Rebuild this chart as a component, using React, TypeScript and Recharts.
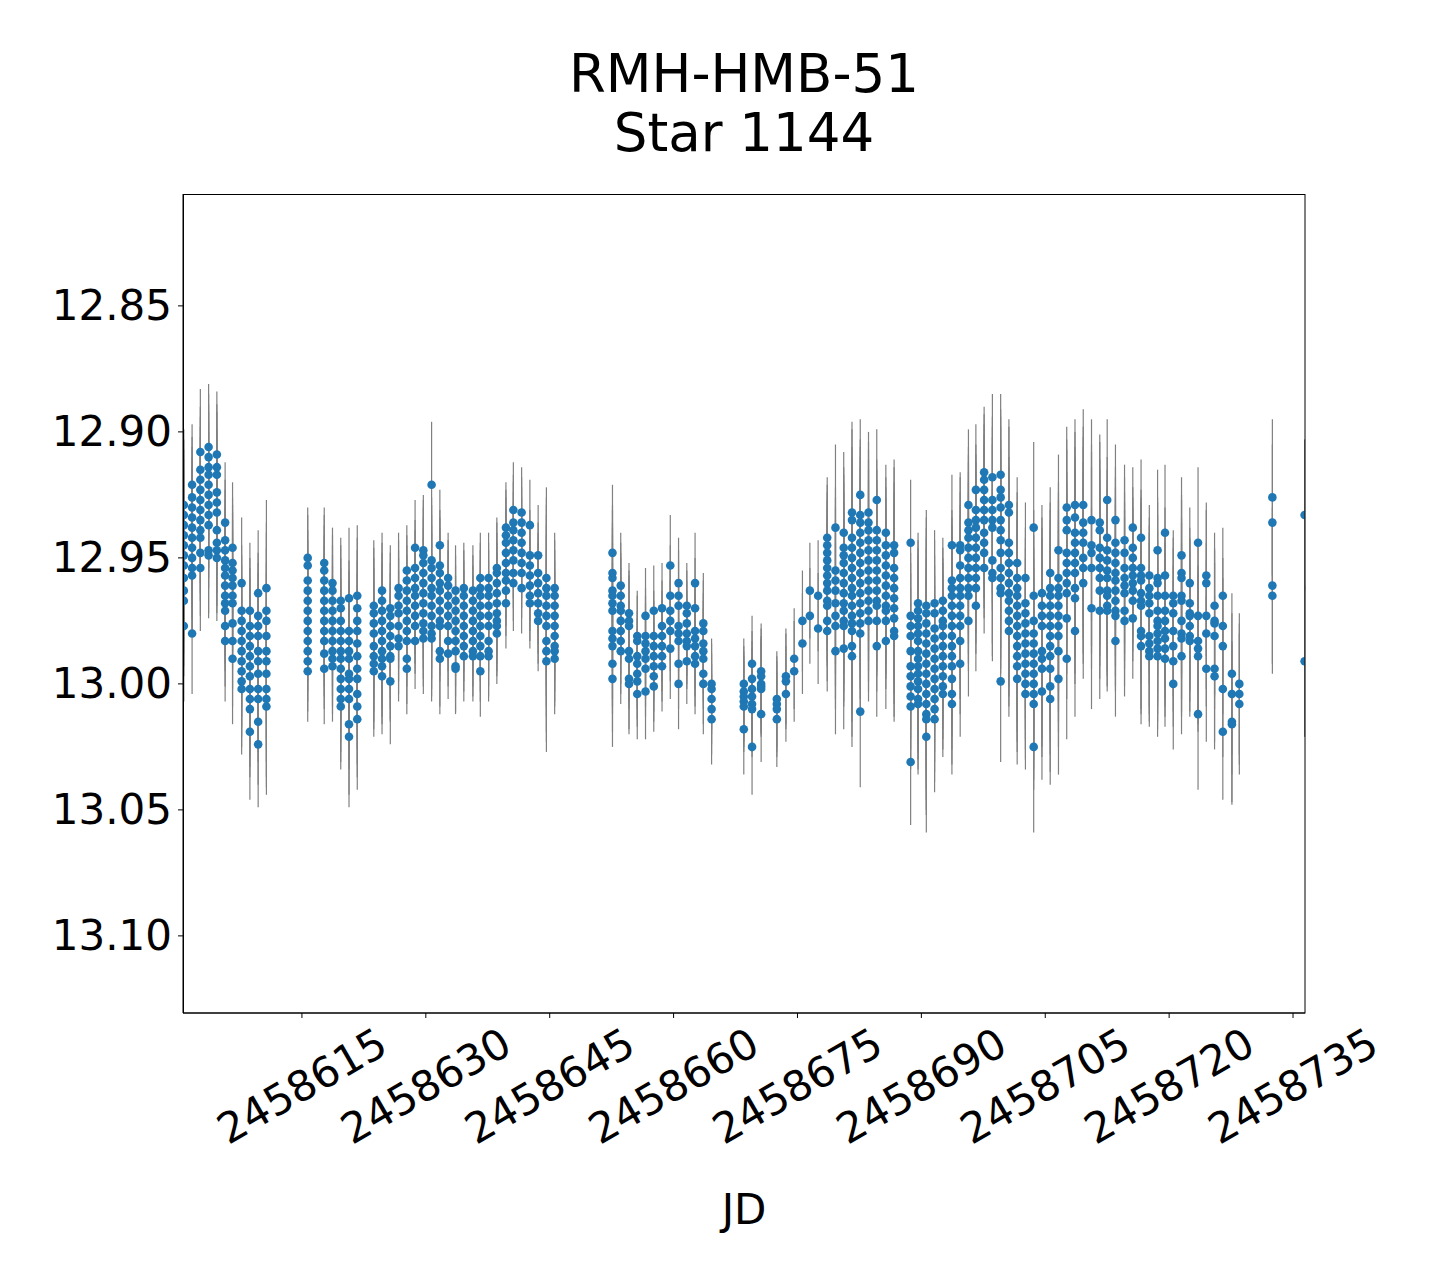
import React from "react";
import { ScatterChart, Scatter, XAxis, YAxis, ErrorBar } from "recharts";

// one entry per observing night: JD, the magnitudes taken that night, typical error
const nightJD = [
  2458600.7, 2458601.7, 2458602.7, 2458603.7, 2458604.7, 2458605.7, 2458606.6, 2458607.7, 2458608.7, 2458609.7, 2458610.7,
  2458615.7, 2458617.7, 2458618.7, 2458619.7, 2458620.7, 2458621.7, 2458623.7, 2458624.7, 2458625.7, 2458626.7,
  2458627.7, 2458628.7, 2458629.7, 2458630.7, 2458631.7, 2458632.7, 2458633.6, 2458634.6, 2458635.7, 2458636.6,
  2458637.6, 2458638.6, 2458639.7, 2458640.6, 2458641.6, 2458642.6, 2458643.6, 2458644.6, 2458645.6,
  2458652.6, 2458653.6, 2458654.6, 2458655.6, 2458656.6, 2458657.6, 2458658.6, 2458659.6, 2458660.6, 2458661.6,
  2458662.6, 2458663.6, 2458664.6,
  2458668.5, 2458669.5, 2458670.6, 2458672.5, 2458673.6, 2458674.6, 2458675.6, 2458676.5, 2458677.5,
  2458678.6, 2458679.6, 2458680.6, 2458681.6, 2458682.6, 2458683.6, 2458684.6, 2458685.7, 2458686.7,
  2458688.7, 2458689.6, 2458690.6, 2458691.6, 2458692.6, 2458693.7, 2458694.7, 2458695.7, 2458696.6, 2458697.6,
  2458698.6, 2458699.6, 2458700.6, 2458701.6, 2458702.6, 2458703.6, 2458704.6, 2458705.6, 2458706.6, 2458707.6,
  2458708.6, 2458709.6, 2458710.6, 2458711.6, 2458712.5, 2458713.5, 2458714.6, 2458715.6, 2458716.6, 2458717.6,
  2458718.6, 2458719.5, 2458720.5, 2458721.5, 2458722.5, 2458723.5, 2458724.5, 2458725.5, 2458726.5, 2458727.6,
  2458728.5, 2458732.5, 2458736.4,
];

const nightMag = [
  [12.929, 12.933, 12.937, 12.941, 12.945, 12.949, 12.953, 12.958, 12.963, 12.967, 12.977],
  [12.921, 12.926, 12.93, 12.934, 12.938, 12.942, 12.946, 12.95, 12.954, 12.957, 12.98],
  [12.908, 12.915, 12.919, 12.923, 12.927, 12.931, 12.935, 12.939, 12.942, 12.948, 12.954],
  [12.906, 12.91, 12.914, 12.917, 12.921, 12.925, 12.929, 12.933, 12.937, 12.947, 12.949],
  [12.909, 12.914, 12.917, 12.924, 12.928, 12.932, 12.939, 12.944, 12.947, 12.95],
  [12.936, 12.943, 12.947, 12.951, 12.954, 12.957, 12.961, 12.965, 12.968, 12.971, 12.977, 12.983],
  [12.946, 12.952, 12.955, 12.958, 12.961, 12.965, 12.968, 12.976, 12.983, 12.99],
  [12.96, 12.971, 12.975, 12.979, 12.983, 12.987, 12.991, 12.995, 12.999, 13.002],
  [12.971, 12.977, 12.981, 12.985, 12.989, 12.993, 12.997, 13.002, 13.006, 13.01, 13.019],
  [12.964, 12.973, 12.977, 12.981, 12.987, 12.991, 12.996, 13.002, 13.006, 13.015, 13.024],
  [12.962, 12.971, 12.975, 12.981, 12.987, 12.991, 12.996, 13.002, 13.006, 13.009],
  [12.95, 12.953, 12.959, 12.963, 12.967, 12.971, 12.975, 12.979, 12.983, 12.987, 12.991, 12.995],
  [12.952, 12.955, 12.959, 12.963, 12.967, 12.971, 12.975, 12.979, 12.983, 12.988, 12.994],
  [12.96, 12.963, 12.967, 12.971, 12.975, 12.979, 12.983, 12.987, 12.99, 12.993],
  [12.967, 12.97, 12.975, 12.979, 12.983, 12.987, 12.99, 12.994, 12.998, 13.002, 13.006, 13.009],
  [12.966, 12.979, 12.983, 12.987, 12.99, 12.996, 12.998, 13.002, 13.006, 13.016, 13.021],
  [12.965, 12.97, 12.975, 12.979, 12.984, 12.989, 12.994, 12.998, 13.004, 13.009, 13.014],
  [12.969, 12.972, 12.976, 12.98, 12.985, 12.989, 12.992, 12.995],
  [12.963, 12.967, 12.971, 12.975, 12.979, 12.983, 12.987, 12.99, 12.993, 12.997],
  [12.97, 12.973, 12.977, 12.981, 12.985, 12.989, 12.99, 12.999],
  [12.962, 12.965, 12.969, 12.972, 12.977, 12.982, 12.985],
  [12.955, 12.959, 12.963, 12.967, 12.971, 12.975, 12.979, 12.983, 12.99, 12.994],
  [12.946, 12.954, 12.958, 12.962, 12.965, 12.969, 12.973, 12.977, 12.983],
  [12.947, 12.949, 12.952, 12.956, 12.96, 12.964, 12.968, 12.972, 12.976, 12.979, 12.982],
  [12.921, 12.951, 12.954, 12.958, 12.962, 12.965, 12.969, 12.973, 12.977, 12.98, 12.982],
  [12.945, 12.953, 12.956, 12.96, 12.963, 12.967, 12.971, 12.975, 12.977, 12.987, 12.99],
  [12.958, 12.961, 12.965, 12.969, 12.973, 12.977, 12.983, 12.988],
  [12.963, 12.967, 12.971, 12.975, 12.979, 12.983, 12.987, 12.993, 12.994],
  [12.962, 12.965, 12.969, 12.973, 12.977, 12.981, 12.985, 12.989],
  [12.963, 12.967, 12.971, 12.975, 12.979, 12.983, 12.987, 12.989],
  [12.958, 12.962, 12.965, 12.969, 12.973, 12.977, 12.981, 12.985, 12.989, 12.995],
  [12.958, 12.962, 12.965, 12.969, 12.973, 12.977, 12.983, 12.987, 12.989],
  [12.954, 12.956, 12.96, 12.964, 12.968, 12.972, 12.975, 12.977, 12.98],
  [12.938, 12.941, 12.944, 12.948, 12.952, 12.956, 12.959, 12.963, 12.968],
  [12.931, 12.936, 12.939, 12.943, 12.947, 12.951, 12.956, 12.96],
  [12.932, 12.936, 12.94, 12.944, 12.948, 12.952, 12.956, 12.962],
  [12.937, 12.949, 12.953, 12.957, 12.961, 12.965, 12.968],
  [12.949, 12.956, 12.96, 12.964, 12.968, 12.972, 12.975],
  [12.958, 12.962, 12.965, 12.969, 12.973, 12.977, 12.983, 12.987, 12.991],
  [12.962, 12.965, 12.969, 12.973, 12.977, 12.981, 12.985, 12.987, 12.99],
  [12.948, 12.956, 12.958, 12.963, 12.965, 12.968, 12.971, 12.979, 12.982, 12.985, 12.992, 12.998],
  [12.961, 12.965, 12.969, 12.971, 12.975, 12.979, 12.983, 12.987],
  [12.972, 12.975, 12.977, 12.987, 12.99, 12.998, 13.0],
  [12.981, 12.983, 12.989, 12.992, 12.996, 12.999, 13.004],
  [12.973, 12.981, 12.984, 12.987, 12.99, 12.994, 13.003],
  [12.971, 12.981, 12.985, 12.989, 12.993, 12.997, 13.001],
  [12.97, 12.977, 12.981, 12.985, 12.989, 12.993],
  [12.953, 12.965, 12.971, 12.975, 12.979, 12.986],
  [12.96, 12.965, 12.969, 12.977, 12.98, 12.983, 12.992, 13.0],
  [12.969, 12.972, 12.976, 12.98, 12.983, 12.985, 12.991],
  [12.96, 12.97, 12.979, 12.982, 12.985, 12.989, 12.992],
  [12.976, 12.979, 12.984, 12.987, 12.99, 12.996, 13.0],
  [13.0, 13.002, 13.006, 13.01, 13.014],
  [13.0, 13.003, 13.005, 13.007, 13.009, 13.018],
  [12.992, 12.998, 13.002, 13.005, 13.008, 13.01, 13.025],
  [12.995, 12.997, 13.0, 13.001, 13.002, 13.012],
  [13.006, 13.008, 13.01, 13.014],
  [12.997, 12.999, 13.004],
  [12.99, 12.995],
  [12.975, 12.984],
  [12.963, 12.973],
  [12.965, 12.978],
  [12.942, 12.945, 12.948, 12.951, 12.954, 12.957, 12.96, 12.963, 12.967, 12.969, 12.975, 12.979],
  [12.938, 12.955, 12.959, 12.963, 12.968, 12.973, 12.977, 12.987],
  [12.94, 12.946, 12.949, 12.952, 12.956, 12.96, 12.964, 12.968, 12.971, 12.975, 12.977, 12.986],
  [12.932, 12.935, 12.942, 12.946, 12.95, 12.954, 12.958, 12.962, 12.965, 12.969, 12.973, 12.976, 12.979, 12.985, 12.989],
  [12.925, 12.933, 12.936, 12.94, 12.944, 12.948, 12.952, 12.956, 12.96, 12.964, 12.968, 12.972, 12.976, 12.98, 13.011],
  [12.932, 12.936, 12.939, 12.943, 12.947, 12.951, 12.955, 12.959, 12.963, 12.967, 12.971, 12.975],
  [12.927, 12.939, 12.943, 12.947, 12.951, 12.955, 12.959, 12.963, 12.967, 12.969, 12.975, 12.985],
  [12.94, 12.945, 12.949, 12.953, 12.957, 12.961, 12.965, 12.969, 12.971, 12.975, 12.983],
  [12.945, 12.948, 12.954, 12.958, 12.962, 12.966, 12.97, 12.974, 12.979, 12.981],
  [12.944, 12.973, 12.977, 12.981, 12.987, 12.993, 12.997, 13.001, 13.005, 13.009, 13.031],
  [12.968, 12.971, 12.974, 12.977, 12.98, 12.983, 12.987, 12.99, 12.993, 12.996, 12.999, 13.002, 13.006, 13.008],
  [12.969, 12.972, 12.976, 12.98, 12.984, 12.988, 12.992, 12.996, 13.0, 13.004, 13.008, 13.012, 13.014, 13.021],
  [12.968, 12.972, 12.978, 12.982, 12.986, 12.99, 12.994, 12.998, 13.002, 13.006, 13.01, 13.014],
  [12.967, 12.971, 12.975, 12.977, 12.981, 12.985, 12.989, 12.993, 12.997, 13.001, 13.004],
  [12.945, 12.959, 12.962, 12.965, 12.969, 12.973, 12.977, 12.981, 12.985, 12.989, 12.993, 12.998, 13.004, 13.008],
  [12.945, 12.947, 12.953, 12.958, 12.962, 12.965, 12.969, 12.973, 12.977, 12.983, 12.992],
  [12.929, 12.936, 12.939, 12.942, 12.946, 12.95, 12.954, 12.958, 12.962, 12.965, 12.975],
  [12.923, 12.931, 12.935, 12.938, 12.942, 12.946, 12.95, 12.954, 12.958, 12.962, 12.969],
  [12.916, 12.919, 12.923, 12.927, 12.931, 12.935, 12.94, 12.944, 12.948, 12.954],
  [12.918, 12.927, 12.931, 12.935, 12.938, 12.951, 12.956, 12.958],
  [12.917, 12.923, 12.926, 12.93, 12.935, 12.939, 12.943, 12.948, 12.954, 12.958, 12.962, 12.964, 12.999],
  [12.929, 12.932, 12.944, 12.948, 12.952, 12.956, 12.96, 12.964, 12.967, 12.971, 12.975, 12.979],
  [12.952, 12.958, 12.962, 12.965, 12.969, 12.973, 12.977, 12.981, 12.985, 12.989, 12.993, 12.998],
  [12.958, 12.968, 12.972, 12.976, 12.98, 12.984, 12.988, 12.992, 12.996, 13.0, 13.004],
  [12.938, 12.965, 12.975, 12.98, 12.984, 12.988, 12.992, 12.996, 13.0, 13.004, 13.008, 13.025],
  [12.964, 12.969, 12.973, 12.977, 12.987, 12.99, 12.994, 13.003],
  [12.956, 12.962, 12.965, 12.969, 12.973, 12.977, 12.981, 12.985, 12.989, 12.994, 13.001, 13.006],
  [12.947, 12.958, 12.962, 12.965, 12.969, 12.973, 12.977, 12.981, 12.987, 12.998],
  [12.93, 12.935, 12.939, 12.948, 12.952, 12.956, 12.96, 12.964, 12.974, 12.99],
  [12.929, 12.934, 12.94, 12.944, 12.948, 12.952, 12.956, 12.962, 12.966, 12.979],
  [12.929, 12.936, 12.94, 12.944, 12.95, 12.954, 12.96],
  [12.935, 12.945, 12.948, 12.954, 12.97],
  [12.936, 12.939, 12.946, 12.95, 12.954, 12.958, 12.963, 12.971],
  [12.927, 12.942, 12.947, 12.951, 12.955, 12.958, 12.963, 12.965, 12.969, 12.971],
  [12.935, 12.944, 12.948, 12.952, 12.956, 12.959, 12.963, 12.967, 12.971, 12.973, 12.983],
  [12.943, 12.948, 12.954, 12.958, 12.961, 12.964, 12.971, 12.975],
  [12.938, 12.946, 12.95, 12.954, 12.957, 12.96, 12.963, 12.967, 12.974],
  [12.942, 12.954, 12.957, 12.959, 12.964, 12.967, 12.969, 12.979, 12.981, 12.985],
  [12.957, 12.962, 12.965, 12.968, 12.972, 12.981, 12.984, 12.987, 12.989],
  [12.947, 12.958, 12.96, 12.965, 12.971, 12.975, 12.977, 12.98, 12.983, 12.986, 12.989],
  [12.94, 12.957, 12.965, 12.971, 12.975, 12.979, 12.982, 12.986, 12.99],
  [12.965, 12.968, 12.972, 12.979, 12.985, 12.991, 13.0],
  [12.949, 12.956, 12.958, 12.965, 12.967, 12.975, 12.98, 12.982, 12.989],
  [12.96, 12.968, 12.972, 12.973, 12.977, 12.981, 12.983],
  [12.944, 12.973, 12.983, 12.986, 12.989, 13.012],
  [12.957, 12.96, 12.973, 12.98, 12.994],
  [12.969, 12.975, 12.976, 12.981, 12.994, 12.997],
  [12.965, 12.977, 12.985, 13.002, 13.019],
  [12.996, 13.004, 13.015, 13.016],
  [13.0, 13.004, 13.008],
  [12.926, 12.936, 12.961, 12.965],
  [12.933, 12.991],
];

const nightErr = [
  0.03, 0.024, 0.025, 0.025, 0.025, 0.024, 0.026, 0.026, 0.027, 0.025, 0.035,
  0.02, 0.022, 0.022, 0.025, 0.028, 0.028, 0.026, 0.023, 0.025, 0.022,
  0.018, 0.019, 0.022, 0.025, 0.022, 0.018, 0.018, 0.018, 0.018, 0.018,
  0.018, 0.02, 0.018, 0.019, 0.018, 0.018, 0.02, 0.036, 0.022,
  0.027, 0.021, 0.02, 0.018, 0.019, 0.018, 0.018, 0.02, 0.018, 0.017,
  0.02, 0.02, 0.018,
  0.018, 0.019, 0.019, 0.019, 0.019, 0.02, 0.02, 0.019, 0.022,
  0.024, 0.033, 0.032, 0.036, 0.03, 0.032, 0.028, 0.027, 0.034,
  0.025, 0.028, 0.038, 0.029, 0.025, 0.028, 0.029, 0.03, 0.026, 0.026,
  0.033, 0.032, 0.034, 0.034, 0.03, 0.034, 0.035, 0.034, 0.038, 0.032,
  0.034, 0.038, 0.04, 0.035, 0.032, 0.03, 0.03, 0.024, 0.031, 0.028,
  0.032, 0.027, 0.026, 0.031, 0.03, 0.03, 0.029, 0.029, 0.027, 0.032,
  0.028, 0.031, 0.03,
];

const xTicks = [2458615, 2458630, 2458645, 2458660, 2458675, 2458690, 2458705, 2458720, 2458735];
const yTicks = [12.85, 12.9, 12.95, 13.0, 13.05, 13.1];

const rows = nightJD.flatMap((jd, i) => nightMag[i].map((mag) => ({ jd, mag, err: nightErr[i] })));

const FONT = "DejaVu Sans";

function XTick(props: any) {
  const { x, payload } = props;
  const cy = 1086;
  return (
    <text x={x} y={cy} transform={`rotate(-30 ${x} ${cy})`} textAnchor="middle" dominantBaseline="central"
      fontSize={42} fontFamily={FONT} fill="#000">
      {payload.value}
    </text>
  );
}

function YTick(props: any) {
  const { y, payload } = props;
  return (
    <text x={172} y={y} textAnchor="end" dominantBaseline="central" fontSize={42} fontFamily={FONT} fill="#000">
      {Number(payload.value).toFixed(2)}
    </text>
  );
}

const Dot = (p: any) => <circle cx={p.cx} cy={p.cy} r={4.3} fill="#1f77b4" />;

export default function App() {
  return (
    <div style={{ position: "absolute", left: 0, top: 0, width: 1440, height: 1280, background: "#fff" }}>
      <ScatterChart width={1440} height={1280} margin={{ top: 194, right: 135, bottom: 0, left: 0 }}>
        <XAxis xAxisId="b" dataKey="jd" type="number" domain={[2458600.6, 2458736.45]} allowDataOverflow
          ticks={xTicks} tick={<XTick />} tickSize={5} height={267} stroke="#000" interval={0} />
        <YAxis yAxisId="l" dataKey="mag" type="number" reversed domain={[12.8056, 13.1306]} allowDataOverflow
          ticks={yTicks} tick={<YTick />} tickSize={5} width={183} stroke="#000" interval={0} />
        <Scatter xAxisId="b" yAxisId="l" data={rows} shape={Dot} isAnimationActive={false}>
          <ErrorBar dataKey="err" direction="y" width={0} stroke="#808080" strokeWidth={1.2} isAnimationActive={false} />
        </Scatter>
      </ScatterChart>
      <svg width={1440} height={1280} style={{ position: "absolute", left: 0, top: 0, pointerEvents: "none" }}>
        <rect x={183.5} y={194.5} width={1121.5} height={818.5} fill="none" stroke="#000" strokeWidth={1} />
        <text x={744} y={92} textAnchor="middle" fontSize={53} fontFamily={FONT} fill="#000">RMH-HMB-51</text>
        <text x={744} y={151} textAnchor="middle" fontSize={53} fontFamily={FONT} fill="#000">Star 1144</text>
        <text x={744} y={1224} textAnchor="middle" fontSize={42} fontFamily={FONT} fill="#000">JD</text>
      </svg>
    </div>
  );
}
